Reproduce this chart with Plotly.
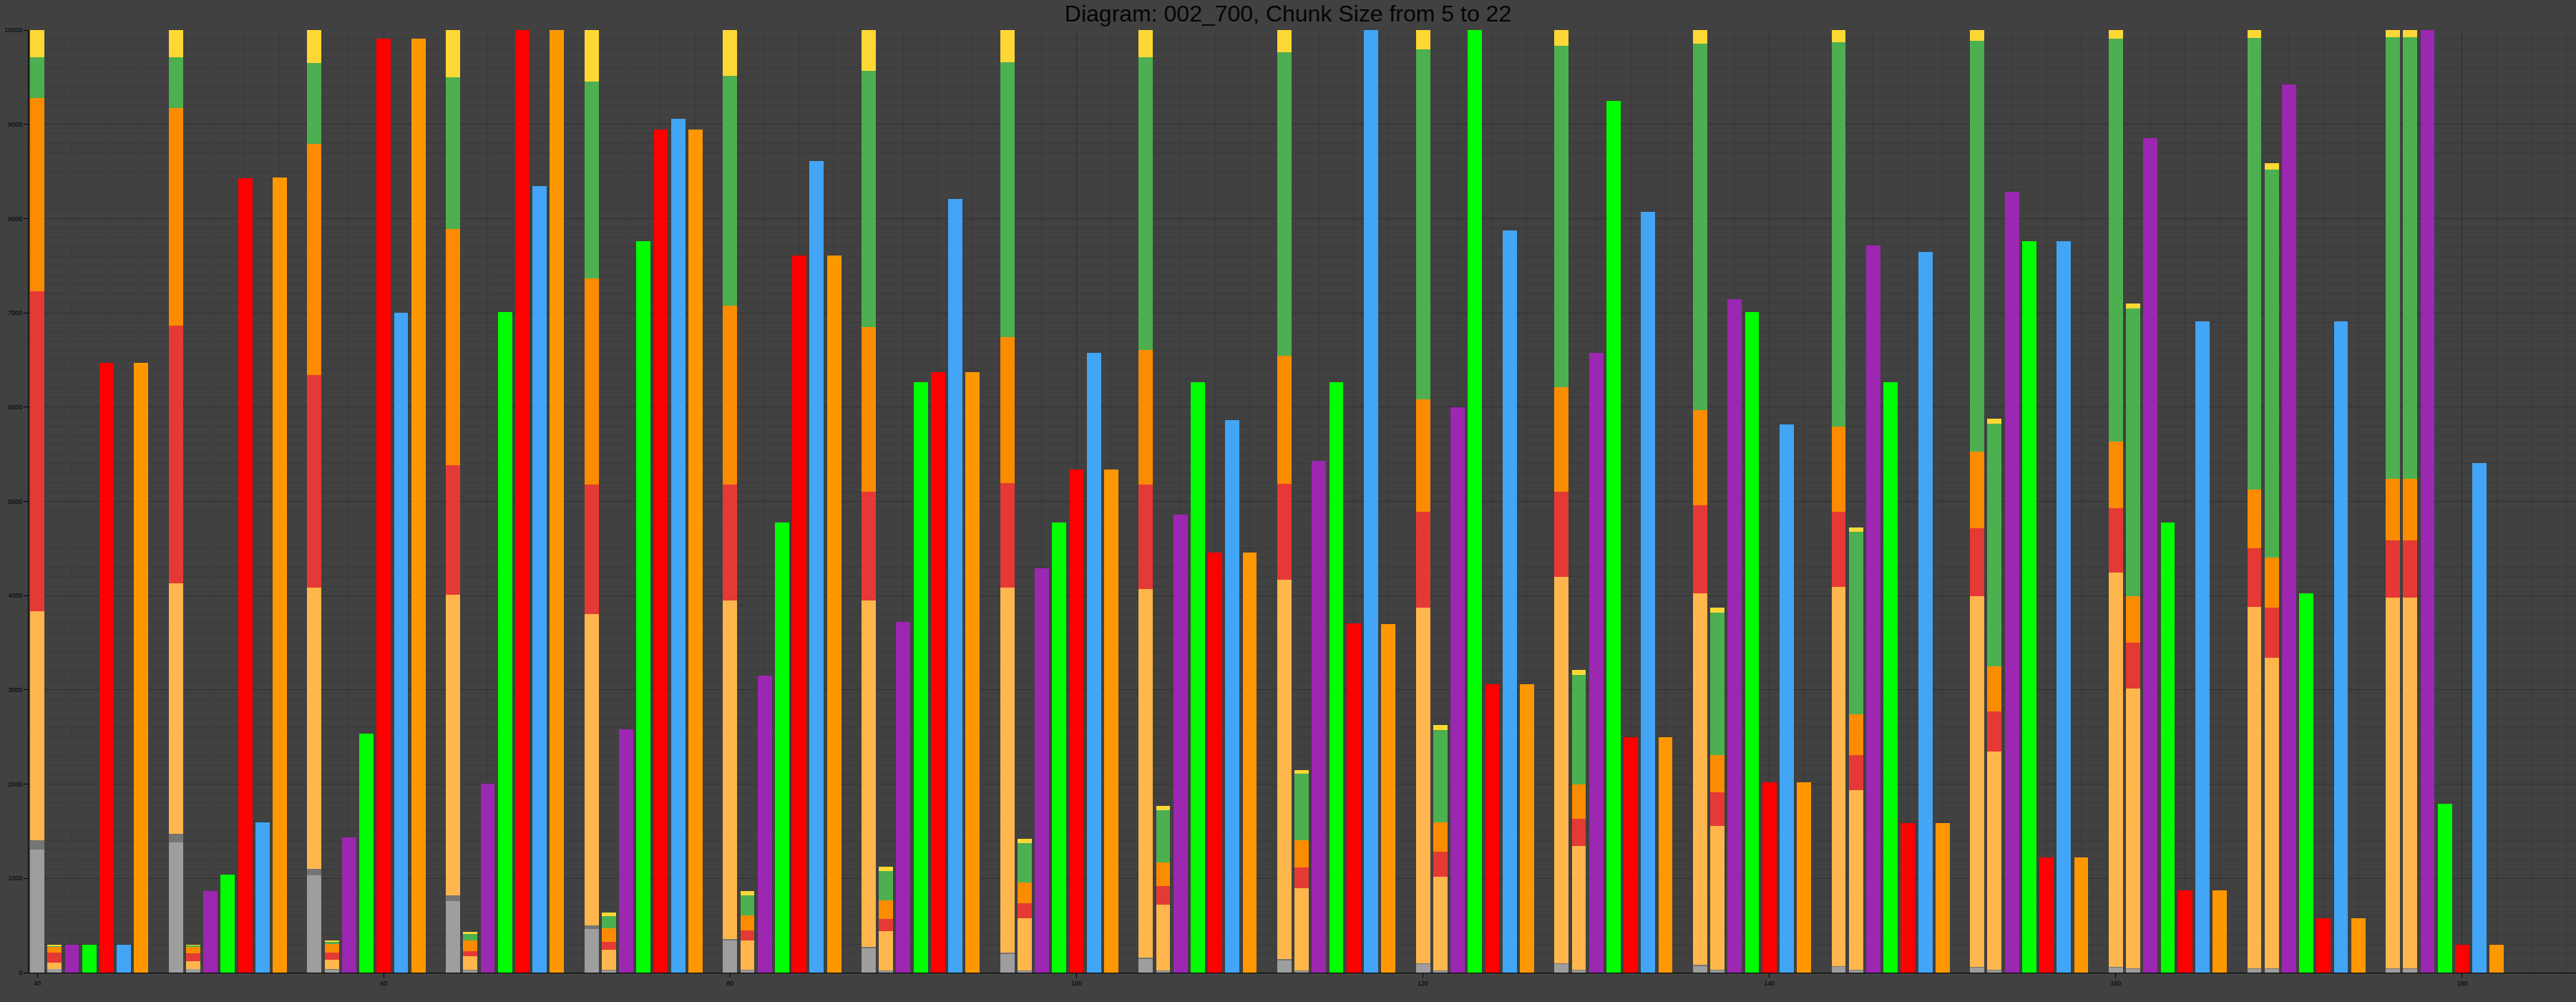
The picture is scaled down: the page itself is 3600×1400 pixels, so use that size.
import plotly.graph_objects as go
import numpy as np

# ---- data ----
chunk_sizes = list(range(5, 23))          # 18 groups
group_start = [40 + 8 * i for i in range(18)]

# Stack A: cumulative tops of each component
A_gray    = [1306, 1383, 1031, 759, 461, 339, 258, 203, 149, 136, 95, 95, 75, 61, 54, 54, 41, 41]
A_dgray   = [1406, 1474, 1098, 820, 502, 359, 275, 215, 160, 145, 102, 102, 80, 66, 58, 58, 45, 45]
A_lorange = [3832, 4129, 4082, 4007, 3804, 3946, 3946, 4082, 4068, 4170, 3871, 4197, 4027, 4095, 3993, 4244, 3878, 3980]
A_red     = [7229, 6863, 6339, 5383, 5180, 5180, 5105, 5193, 5180, 5187, 4888, 5105, 4956, 4888, 4712, 4929, 4502, 4583]
A_orange  = [9278, 9172, 8794, 7892, 7363, 7078, 6848, 6739, 6604, 6549, 6082, 6210, 5966, 5797, 5526, 5634, 5126, 5241]
A_green   = [9711, 9711, 9648, 9499, 9451, 9512, 9567, 9662, 9709, 9763, 9797, 9831, 9858, 9872, 9885, 9912, 9919, 9926]
A_yellow  = [10000, 10000, 10000, 10000, 10000, 10000, 10000, 10000, 10000, 10000, 10000, 10000, 10000, 10000, 10000, 10000, 10000, 10000]

# Stack B: cumulative tops of each component
B_gray    = [38, 38, 36, 27, 27, 27, 20, 20, 20, 20, 20, 27, 27, 27, 27, 41, 41, 41]
B_dgray   = [40, 40, 40, 30, 30, 30, 23, 23, 23, 23, 23, 30, 30, 30, 30, 44, 44, 45]
B_lorange = [106, 121, 136, 176, 244, 339, 441, 576, 719, 895, 1017, 1342, 1559, 1939, 2346, 3017, 3343, 3980]
B_red     = [213, 205, 211, 230, 325, 447, 570, 739, 915, 1119, 1281, 1634, 1912, 2305, 2773, 3498, 3871, 4583]
B_orange  = [276, 274, 305, 339, 468, 610, 766, 956, 1166, 1403, 1593, 2000, 2305, 2739, 3248, 3993, 4407, 5241]
B_green   = [284, 289, 333, 407, 597, 820, 1078, 1376, 1722, 2109, 2576, 3159, 3817, 4678, 5824, 7044, 8522, 9926]
B_yellow  = [292, 296, 344, 434, 637, 868, 1125, 1417, 1770, 2149, 2624, 3214, 3871, 4726, 5878, 7099, 8590, 10000]

purple_vals = [296, 866, 1437, 2007, 2583, 3153, 3722, 4292, 4861, 5431, 6000, 6577, 7146, 7716, 8285, 8855, 9424, 10000]
green_vals  = [296, 1041, 2536, 7010, 7763, 4773, 6265, 4773, 6265, 6265, 10000, 9248, 7010, 6265, 7763, 4773, 4027, 1790]
red_vals    = [6470, 8427, 9912, 10000, 8943, 7607, 6373, 5336, 4454, 3709, 3058, 2495, 2020, 1587, 1220, 875, 576, 298]
blue_vals   = [296, 1596, 7004, 8346, 9058, 8611, 8211, 6577, 5865, 10000, 7872, 8068, 5817, 7648, 7763, 6909, 6909, 5410]
orange_vals = [6470, 8435, 9912, 10000, 8943, 7607, 6373, 5336, 4454, 3695, 3058, 2495, 2020, 1587, 1220, 875, 576, 298]

x_ticks = [40, 60, 80, 100, 120, 140, 160, 180]
y_ticks = [0, 1000, 2000, 3000, 4000, 5000, 6000, 7000, 8000, 9000, 10000]

comp_names  = ["gray", "darkgray", "lightorange", "red", "orange", "green", "yellow"]
comp_colors = ["#9e9e9e", "#757575", "#ffb74d", "#e53935", "#fb8c00", "#4caf50", "#fdd835"]
A_tops = [A_gray, A_dgray, A_lorange, A_red, A_orange, A_green, A_yellow]
B_tops = [B_gray, B_dgray, B_lorange, B_red, B_orange, B_green, B_yellow]

BAR_W = 0.82
fig = go.Figure()

# stacked components (stack A at group+0, stack B at group+1)
prevA = np.zeros(18)
prevB = np.zeros(18)
for name, col, ta, tb in zip(comp_names, comp_colors, A_tops, B_tops):
    ta = np.array(ta, float)
    tb = np.array(tb, float)
    xs, ys = [], []
    for i, g in enumerate(group_start):
        xs += [g, g + 1]
        ys += [ta[i] - prevA[i], tb[i] - prevB[i]]
    prevA, prevB = ta, tb
    fig.add_trace(go.Bar(x=xs, y=ys, name=name, width=BAR_W,
                         marker=dict(color=col, line=dict(width=0))))

singles = [(purple_vals, "#9c27b0", 2), (green_vals, "#00ff00", 3), (red_vals, "#ff0000", 4),
           (blue_vals, "#42a5f5", 5), (orange_vals, "#ff9800", 6)]
for vals, col, off in singles:
    fig.add_trace(go.Bar(x=[g + off for g in group_start], y=vals, width=BAR_W,
                         marker=dict(color=col, line=dict(width=0))))

BG = "#414141"
fig.update_layout(
    width=3600, height=1400,
    barmode="stack",
    showlegend=False,
    paper_bgcolor=BG, plot_bgcolor=BG,
    margin=dict(l=40, r=0, t=42, b=41),
    font=dict(family="Liberation Sans, Arial, sans-serif", color="#000000", size=9),
    title=dict(text="Diagram: 002_700, Chunk Size from 5 to 22",
               x=0.5, xanchor="center", y=1 - 19 / 1400, yanchor="middle", yref="container",
               font=dict(family="Liberation Sans, Arial, sans-serif", size=32, color="#050505")),
    xaxis=dict(range=[39.5, 186.57], tickvals=x_ticks, ticktext=[str(v) for v in x_ticks],
               showgrid=True, gridcolor="#303030", gridwidth=1,
               minor=dict(dtick=2, tick0=40, showgrid=True, gridcolor="#393939", gridwidth=1, ticks=""),
               showline=True, linecolor="#000000", linewidth=1,
               ticks="outside", ticklen=6, tickcolor="#000000", tickwidth=1,
               zeroline=False, tickfont=dict(size=9, color="#000000")),
    yaxis=dict(range=[0, 10000], tickvals=y_ticks, ticktext=[str(v) for v in y_ticks],
               showgrid=True, gridcolor="#303030", gridwidth=1,
               minor=dict(dtick=100, tick0=0, showgrid=True, gridcolor="#393939", gridwidth=1, ticks=""),
               showline=True, linecolor="#000000", linewidth=1,
               ticks="outside", ticklen=6, tickcolor="#000000", tickwidth=1,
               zeroline=False, tickfont=dict(size=9, color="#000000")),
)

fig.write_html("out.html")
